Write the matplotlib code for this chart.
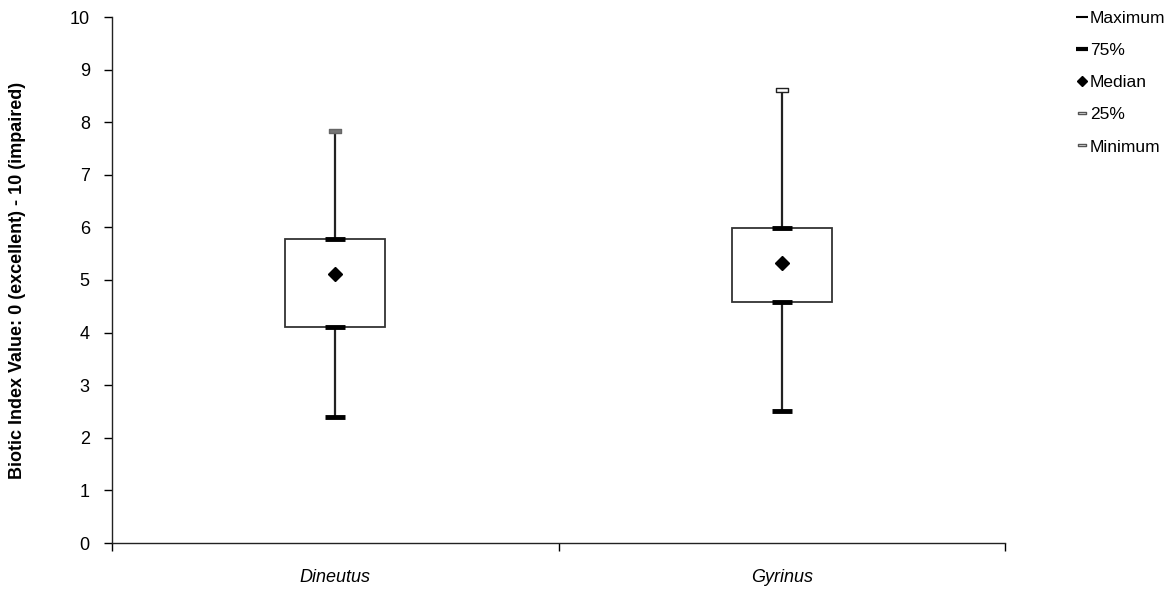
import matplotlib
matplotlib.use("Agg")
import matplotlib.pyplot as plt
from matplotlib.lines import Line2D
from matplotlib.path import Path
from matplotlib.patches import Rectangle

plt.rcParams['font.family'] = ['Liberation Sans', 'DejaVu Sans']

categories = ["Dineutus", "Gyrinus"]
maximum = [7.84, 8.62]
q3 = [5.78, 5.99]
median = [5.12, 5.32]
q1 = [4.11, 4.59]
minimum = [2.40, 2.51]

yticks = list(range(0, 11))

fig = plt.figure(figsize=(11.69, 5.91), dpi=100)
ax = fig.add_axes([112/1169, 1 - 543/591, (1005-112)/1169, (543-17)/591])

xs = [0.5, 1.5]
bw = 0.224
rect_marker = Path([(-1, -0.3), (1, -0.3), (1, 0.3), (-1, 0.3), (-1, -0.3)],
                   [Path.MOVETO, Path.LINETO, Path.LINETO, Path.LINETO, Path.CLOSEPOLY])

for i, x in enumerate(xs):
    ax.plot([x, x], [minimum[i], maximum[i]], color='#222222', lw=1.6, zorder=1, solid_capstyle='butt')
    ax.add_patch(Rectangle((x - bw/2, q1[i]), bw, q3[i] - q1[i], facecolor='white',
                           edgecolor='#333333', lw=1.3, zorder=2))
    ax.plot([x], [maximum[i]], marker=rect_marker, ms=8, mfc='white' if i == 1 else '#777777',
            mec='#222222' if i == 1 else '#666666', mew=1.0, zorder=3)
    ax.plot([x], [q3[i]], marker='_', ms=15, mew=3.5, color='black', zorder=3)
    ax.plot([x], [q1[i]], marker='_', ms=15, mew=3.5, color='black', zorder=3)
    ax.plot([x], [minimum[i]], marker='_', ms=15, mew=3.5, color='black', zorder=3)
    ax.plot([x], [median[i]], marker='D', ms=7.5, color='black', zorder=4)

ax.set_xlim(0, 2)
ax.set_ylim(0, 10)
ax.set_yticks(yticks)
ax.set_yticklabels([str(t) for t in yticks], fontsize=13)
ax.set_xticks([0, 1, 2])
ax.set_xticklabels([])
ax.set_xticks(xs, minor=True)
ax.set_xticklabels(categories, minor=True, fontsize=13, style='italic')
ax.tick_params(axis='x', which='minor', length=0, pad=19)
ax.tick_params(axis='x', which='major', direction='out', length=6, width=1)
ax.tick_params(axis='y', direction='out', length=6, width=1, pad=10)
for s in ['top', 'right']:
    ax.spines[s].set_visible(False)
for s in ['left', 'bottom']:
    ax.spines[s].set_linewidth(1.0)
    ax.spines[s].set_color('#222222')

ax.set_ylabel("Biotic Index Value: 0 (excellent) - 10 (impaired)", fontsize=13,
              fontweight='bold')
ax.yaxis.set_label_coords(-(112 - 26) / (1005 - 112), 0.5)

handles = [
    Line2D([], [], ls='none', marker='_', ms=9, mew=1.5, color='black'),
    Line2D([], [], ls='none', marker='_', ms=9, mew=3, color='black'),
    Line2D([], [], ls='none', marker='D', ms=5, color='black'),
    Line2D([], [], ls='none', marker=rect_marker, ms=6, mfc='white', mec='#555555', mew=1),
    Line2D([], [], ls='none', marker=rect_marker, ms=6, mfc='white', mec='#555555', mew=1),
]
labels = ["Maximum", "75%", "Median", "25%", "Minimum"]
leg = fig.legend(handles, labels, loc='upper left', bbox_to_anchor=(1068/1169, 1 - 2/591),
                 frameon=False, fontsize=12.5, handlelength=0.6, handletextpad=0.15,
                 labelspacing=0.98, borderpad=0)

fig.savefig("out.png", dpi=100)
